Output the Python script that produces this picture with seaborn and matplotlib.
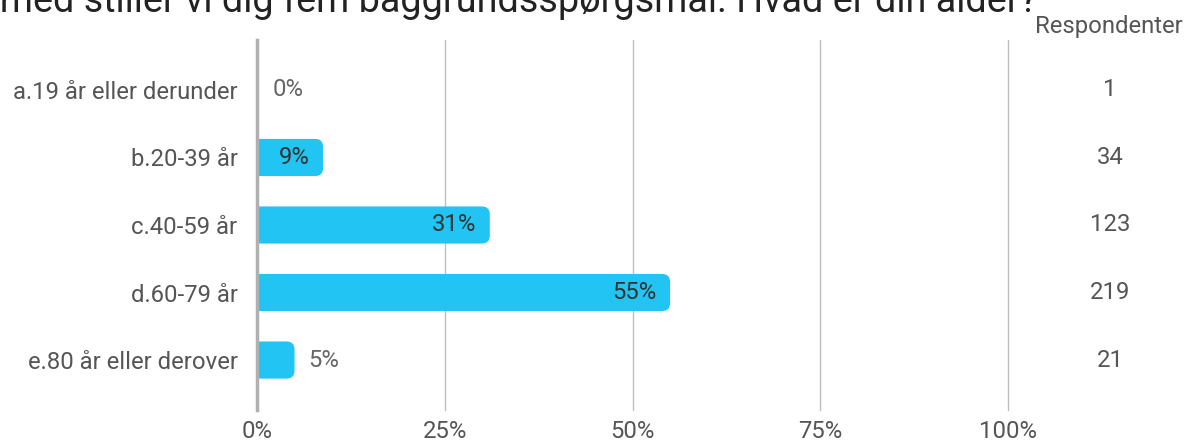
import matplotlib
matplotlib.use("Agg")
import matplotlib.pyplot as plt
import seaborn as sns
import pandas as pd
from matplotlib.patches import FancyBboxPatch

categories = ["a.19 år eller derunder", "b.20-39 år", "c.40-59 år", "d.60-79 år", "e.80 år eller derover"]
percent = [0.25, 8.8, 31.0, 55.0, 5.0]
pct_labels = ["0%", "9%", "31%", "55%", "5%"]
respondents = [1, 34, 123, 219, 21]
xticks = [0, 25, 50, 75, 100]
xtick_labels = ["0%", "25%", "50%", "75%", "100%"]
title = "Hermed stiller vi dig fem baggrundsspørgsmål. Hvad er din alder?"

sns.set_theme(style="white")
plt.rcParams["font.family"] = ["Roboto", "DejaVu Sans"]

FS = 17.2
df = pd.DataFrame({"cat": categories, "pct": percent})

fig = plt.figure(figsize=(11.88, 4.42), dpi=100)
ax = fig.add_axes([257 / 1188, 1 - 410 / 442, (1008 - 257) / 1188, 370 / 442])

bar_color = "#21C4F3"
sns.barplot(data=df, x="pct", y="cat", orient="h", color=bar_color, width=0.55, ax=ax, saturation=1)

ax.set_xlim(0, 100)
ax.set_ylim(4.74, -0.74)

# rounded bars
px_x = (1008 - 257) / 100.0
px_y = 67.5
r = 8 / px_x
for p in list(ax.patches):
    x0, y0 = p.get_x(), p.get_y()
    w, h = p.get_width(), p.get_height()
    p.set_visible(False)
    fb = FancyBboxPatch((x0 - 3 * r, y0), w + 3 * r, h,
                        boxstyle=f"round,pad=0,rounding_size={r}",
                        mutation_aspect=px_x / px_y,
                        facecolor=bar_color, edgecolor="none", zorder=2)
    fb.set_clip_path(ax.patch)
    ax.add_patch(fb)

# gridlines
for xv in xticks[1:]:
    ax.axvline(xv, color="#BDBDBD", lw=1.0, zorder=1, clip_on=False)

for s in ["top", "right", "bottom"]:
    ax.spines[s].set_visible(False)
ax.spines["left"].set_color("#B0B0B0")
ax.spines["left"].set_linewidth(2.5)
ax.spines["left"].set_zorder(3)

ax.set_xticks(xticks)
ax.set_xticklabels(xtick_labels, fontsize=FS, color="#555555")
ax.tick_params(axis="x", length=0, pad=7)
ax.tick_params(axis="y", length=0, pad=14, labelsize=FS, labelcolor="#555555")
ax.set_xlabel("")
ax.set_ylabel("")

# value labels
for i, (v, lab) in enumerate(zip(percent, pct_labels)):
    if v > 7:
        ax.text(v - 1.75, i, lab, ha="right", va="center", fontsize=FS, color="#333333", zorder=4)
    else:
        ax.text(v + 1.8, i, lab, ha="left", va="center", fontsize=FS, color="#666666", zorder=4)

# respondents column
trans = ax.get_yaxis_transform()
xr = (1110 - 257) / (1008 - 257)
for i, n in enumerate(respondents):
    ax.text(xr, i, str(n), ha="center", va="center", fontsize=FS, color="#555555",
            transform=trans, clip_on=False)
fig.text(1109 / 1188, 1 - 27 / 442, "Respondenter", ha="center", va="center",
         fontsize=FS, color="#555555")

# title: partially cut off at top/left like the reference
TFS = 27.2
fig.canvas.draw()
renderer = fig.canvas.get_renderer()
tmp = fig.text(0, 0, "Her", fontsize=TFS)
w_her = tmp.get_window_extent(renderer).width
tmp.remove()
fig.text(-w_her / 1188, 1 - 12 / 442, title, ha="left", va="baseline", fontsize=TFS, color="#222222")

fig.savefig("out.png", dpi=100)
